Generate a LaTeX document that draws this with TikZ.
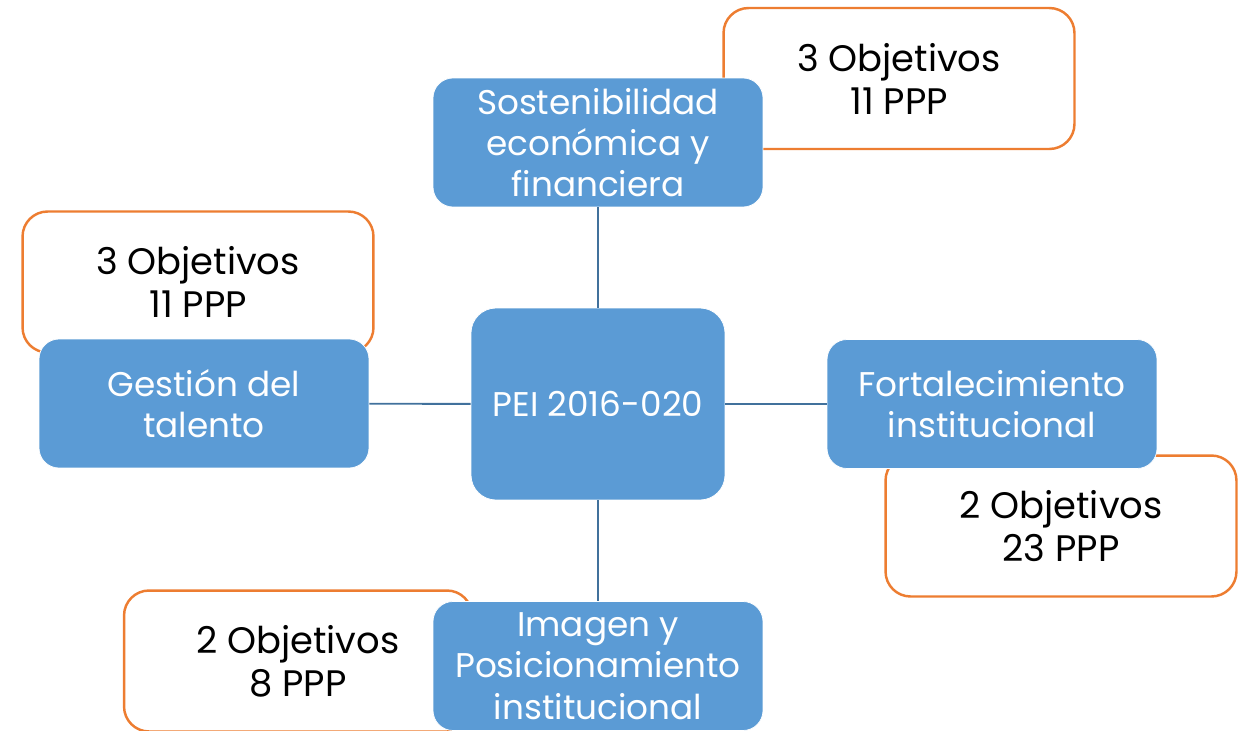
\documentclass[tikz,border=0pt]{standalone}
\usepackage{fontspec}
\setmainfont{Poppins}
\definecolor{ejeazul}{HTML}{5B9BD5}
\definecolor{lineaazul}{HTML}{41719C}
\definecolor{naranja}{HTML}{ED7D31}
\begin{document}
\begin{tikzpicture}[x=0.02cm, y=-0.02cm,
    eje/.style={fill=ejeazul, draw=white, line width=0.4pt, rounded corners=0.4cm,
        minimum width=6.6cm, minimum height=2.58cm, align=center, text=white,
        font=\fontsize{19.5}{23.5}\selectfont},
    centro/.style={eje, minimum width=5.08cm, minimum height=3.84cm, rounded corners=0.5cm},
    cifras/.style={fill=white, draw=naranja, line width=1.4pt, rounded corners=0.5cm,
        minimum width=7.02cm, minimum height=2.82cm, align=center, text=black,
        font=\fontsize{21}{24.5}\selectfont},
    enlace/.style={draw=lineaazul, line width=1.1pt}]

    \useasboundingbox (0,0) rectangle (1243,730);
    \clip (0,0) rectangle (1243,730);

    % cajas de cifras (detras)
    \node[cifras] (c-sost) at (899,78.5) {3 Objetivos\\11 PPP};
    \node[cifras] (c-gest) at (198,282) {3 Objetivos\\11 PPP};
    \node[cifras] (c-fort) at (1061,526) {2 Objetivos\\23 PPP};
    \node[cifras, minimum width=6.96cm] (c-imag) at (298,661) {2 Objetivos\\8 PPP};

    % ejes
    \node[centro] (pei) at (598,404) {PEI 2016-020};
    \node[eje] (sost) at (598,142.5) {Sostenibilidad\\económica y\\financiera};
    \node[eje] (gest) at (204,403.5) {Gestión del\\talento};
    \node[eje] (fort) at (992,404) {Fortalecimiento\\institucional};
    \node[eje] (imag) at (598,666) {Imagen y\\Posicionamiento\\institucional};

    \draw[enlace] (pei) -- (sost);
    \draw[enlace] (pei) -- (gest);
    \draw[enlace] (pei) -- (fort);
    \draw[enlace] (pei) -- (imag);

\end{tikzpicture}
\end{document}
